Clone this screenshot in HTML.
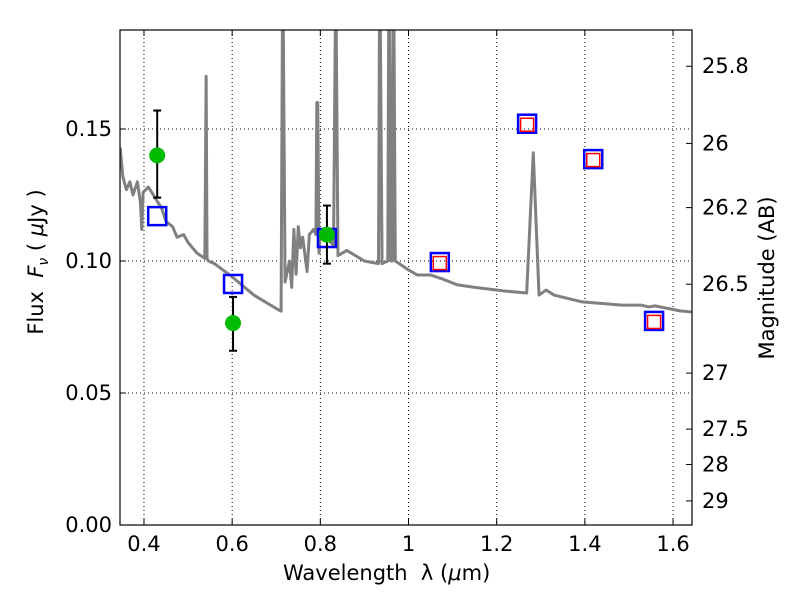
<!DOCTYPE html>
<html><head><meta charset="utf-8"><style>
body{margin:0;background:#fff;overflow:hidden;}
svg text{font-family:"DejaVu Sans","Liberation Sans",sans-serif;fill:#000;}
</style></head><body>
<svg id="c" width="800" height="600"></svg>
<script>
const specLam=[0.346,0.352,0.360,0.368,0.375,0.385,0.392,0.395,0.398,0.41,0.425,0.44,0.45,0.465,0.475,0.49,0.50,0.52,0.538,0.541,0.543,0.546,0.56,0.60,0.65,0.70,0.711,0.714,0.716,0.72,0.73,0.735,0.74,0.745,0.75,0.755,0.76,0.77,0.775,0.785,0.79,0.792,0.794,0.797,0.80,0.83,0.834,0.836,0.84,0.86,0.90,0.932,0.934,0.936,0.94,0.953,0.955,0.957,0.96,0.963,0.965,0.967,0.97,1.0,1.02,1.05,1.08,1.11,1.15,1.22,1.268,1.283,1.296,1.312,1.330,1.394,1.484,1.527,1.545,1.559,1.616,1.643];
const specF=[0.143,0.132,0.127,0.130,0.125,0.130,0.122,0.112,0.126,0.128,0.124,0.120,0.115,0.113,0.109,0.110,0.107,0.103,0.101,0.170,0.101,0.100,0.099,0.094,0.087,0.082,0.081,0.19,0.19,0.092,0.100,0.090,0.112,0.095,0.113,0.105,0.109,0.096,0.110,0.112,0.110,0.160,0.160,0.103,0.111,0.106,0.19,0.19,0.102,0.104,0.100,0.099,0.19,0.19,0.099,0.100,0.19,0.19,0.100,0.100,0.19,0.19,0.100,0.0966,0.0947,0.0947,0.093,0.091,0.090,0.0886,0.0879,0.141,0.0871,0.089,0.0871,0.0845,0.0833,0.0833,0.0826,0.083,0.0811,0.0807];
const obsLam=[0.430,0.602,0.815];
const obsF=[0.140,0.0765,0.110];
const obsLo=[0.124,0.066,0.099];
const obsHi=[0.157,0.0864,0.121];
const modLam=[0.430,0.602,0.815,1.071,1.269,1.419,1.557];
const modF=[0.117,0.0913,0.1087,0.0996,0.152,0.1386,0.0773];
const redLam=[1.071,1.269,1.419,1.557];
const redF=[0.0996,0.152,0.1386,0.0773];
const xTicks=[0.4,0.6,0.8,1.0,1.2,1.4,1.6];
const xTickLabels=["0.4","0.6","0.8","1","1.2","1.4","1.6"];
const yTicks=[0,0.05,0.10,0.15];
const yTickLabels=["0.00","0.05","0.10","0.15"];
const magTicks=[25.8,26,26.2,26.5,27,27.5,28,29];

const L=120,R=692,T=30,B=525,x0=0.3456,x1=1.643,y1=0.1875;
const X=v=>L+(v-x0)/(x1-x0)*(R-L);
const Y=v=>B-v/y1*(B-T);
const NS="http://www.w3.org/2000/svg";
const svg=document.getElementById('c');
function mk(t,a,p){const e=document.createElementNS(NS,t);for(const k in a)e.setAttribute(k,a[k]);(p||svg).appendChild(e);return e;}
const clip=mk('clipPath',{id:'pc'});mk('rect',{x:L,y:T,width:R-L,height:B-T},clip);
xTicks.forEach((v,i)=>{
 let g=mk('line',{x1:X(v),x2:X(v),y1:T,y2:B,stroke:'#000','stroke-width':1,'stroke-dasharray':'1,3'});
 
 mk('line',{x1:X(v),x2:X(v),y1:B,y2:B-6,stroke:'#000'});
 mk('line',{x1:X(v),x2:X(v),y1:T,y2:T+6,stroke:'#000'});
 let t=mk('text',{x:X(v),y:B+26,'text-anchor':'middle','font-size':21});t.textContent=xTickLabels[i];
 
});
yTicks.forEach((v,i)=>{
 let g=mk('line',{x1:L,x2:R,y1:Y(v),y2:Y(v),stroke:'#000','stroke-width':1,'stroke-dasharray':'1,3'});
 
 mk('line',{x1:L,x2:L+6,y1:Y(v),y2:Y(v),stroke:'#000'});
 let t=mk('text',{x:L-8,y:Y(v)+7,'text-anchor':'end','font-size':21});t.textContent=yTickLabels[i];
 
});
magTicks.forEach(m=>{
 const f=Math.pow(10,(23.9-m)/2.5);const y=Y(f);
 mk('line',{x1:R,x2:R-6,y1:y,y2:y,stroke:'#000'});
 let t=mk('text',{x:R+10,y:y+7,'font-size':21});t.textContent=String(m);
 
});
const sp=mk('polyline',{points:specLam.map((l,i)=>X(l)+','+Y(specF[i])).join(' '),fill:'none',stroke:'#808080','stroke-width':3,'stroke-linejoin':'round','clip-path':'url(#pc)'});

modLam.forEach((l,i)=>{
 const r=mk('rect',{x:X(l)-9,y:Y(modF[i])-9,width:18,height:18,fill:'none',stroke:'#0000ff','stroke-width':2.5});
 
});
redLam.forEach((l,i)=>{
 const r=mk('rect',{x:X(l)-6.5,y:Y(redF[i])-5.5,width:13,height:13,fill:'none',stroke:'#ff0000','stroke-width':1.5});
 
});
obsLam.forEach((l,i)=>{
 const x=X(l);
 const e=mk('g',{});
 mk('line',{x1:x,x2:x,y1:Y(obsLo[i]),y2:Y(obsHi[i]),stroke:'#000','stroke-width':2},e);
 mk('line',{x1:x-4,x2:x+4,y1:Y(obsLo[i]),y2:Y(obsLo[i]),stroke:'#000','stroke-width':2},e);
 mk('line',{x1:x-4,x2:x+4,y1:Y(obsHi[i]),y2:Y(obsHi[i]),stroke:'#000','stroke-width':2},e);
 const c=mk('circle',{cx:x,cy:Y(obsF[i]),r:8,fill:'#00bb00'});
 
});
const fr=mk('rect',{x:L,y:T,width:R-L,height:B-T,fill:'none',stroke:'#000','stroke-width':1.2});

</script>
<div style="position:absolute;left:0;top:0;width:800px;height:600px;pointer-events:none;font-family:'DejaVu Sans','Liberation Sans',sans-serif;">
 <div style="position:absolute;left:283px;top:561px;font-size:21px;white-space:nowrap;">Wavelength&nbsp; λ (<i>μ</i>m)</div>
 <div style="position:absolute;left:38px;top:262px;font-size:21px;white-space:nowrap;transform:translate(-50%,-50%) rotate(-90deg);">Flux&nbsp; <i>F<sub style="font-size:14px">ν</sub></i> ( <i>μ</i>Jy )</div>
 <div style="position:absolute;left:767px;top:278px;font-size:21px;white-space:nowrap;transform:translate(-50%,-50%) rotate(-90deg);">Magnitude (AB)</div>
</div>
</body></html>
